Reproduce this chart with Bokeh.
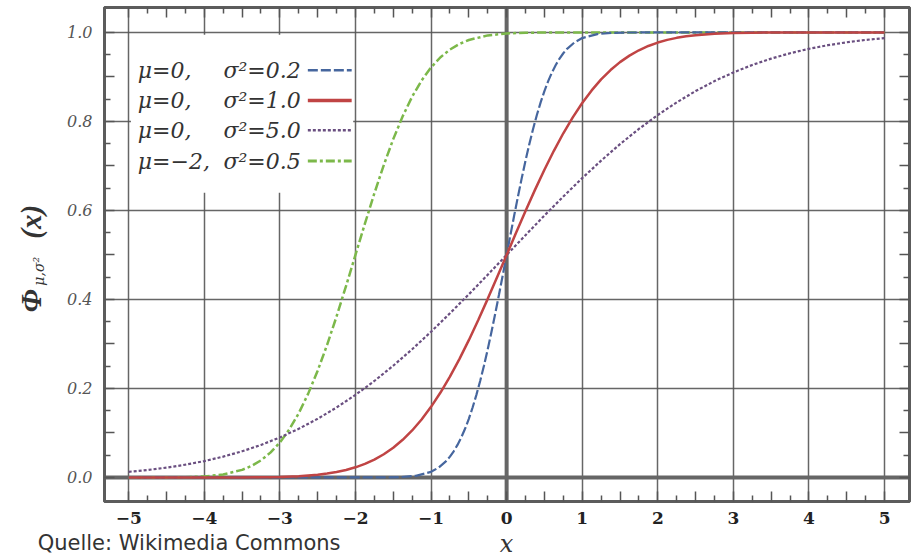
from math import pi
from bokeh.plotting import figure
from bokeh.models import FixedTicker, LinearAxis, Span, BoxAnnotation, Label
from bokeh.embed import file_html
from bokeh.resources import INLINE

# ---- data ----
# mu=0, sigma^2=0.2
x_a = [-5.0, -2.0, -1.6, -1.4, -1.2, -1.0, -0.9, -0.8, -0.75, -0.7, -0.65, -0.6, -0.55, -0.5,
       -0.45, -0.4, -0.35, -0.3, -0.25, -0.2, -0.15, -0.1, -0.05, 0.0, 0.05, 0.1, 0.15, 0.2, 0.25,
       0.3, 0.35, 0.4, 0.45, 0.5, 0.55, 0.6, 0.65, 0.7, 0.75, 0.8, 0.9, 1.0, 1.2, 1.4, 1.6, 2.0, 5.0]
y_a = [0.0, 0.0, 0.0002, 0.0009, 0.0037, 0.0127, 0.0221, 0.0368, 0.0468, 0.0588, 0.0731, 0.0899,
       0.1094, 0.1318, 0.1572, 0.1856, 0.2169, 0.2511, 0.2881, 0.3274, 0.3687, 0.4115, 0.4555,
       0.5, 0.5445, 0.5885, 0.6313, 0.6726, 0.7119, 0.7489, 0.7831, 0.8144, 0.8428, 0.8682,
       0.8906, 0.9101, 0.9269, 0.9412, 0.9532, 0.9632, 0.9779, 0.9873, 0.9963, 0.9991, 0.9998,
       1.0, 1.0]

# mu=0, sigma^2=1.0
x_b = [-5.0, -4.75, -4.5, -4.25, -4.0, -3.75, -3.5, -3.25, -3.0, -2.75, -2.5, -2.375, -2.25,
       -2.125, -2.0, -1.875, -1.75, -1.625, -1.5, -1.375, -1.25, -1.125, -1.0, -0.875, -0.75,
       -0.625, -0.5, -0.375, -0.25, -0.125, 0.0, 0.125, 0.25, 0.375, 0.5, 0.625, 0.75, 0.875,
       1.0, 1.125, 1.25, 1.375, 1.5, 1.625, 1.75, 1.875, 2.0, 2.125, 2.25, 2.375, 2.5, 2.75,
       3.0, 3.25, 3.5, 3.75, 4.0, 4.25, 4.5, 4.75, 5.0]
y_b = [0.0, 0.0, 0.0, 0.0, 0.0, 0.0001, 0.0002, 0.0006, 0.0013, 0.0030, 0.0062, 0.0088, 0.0122,
       0.0168, 0.0228, 0.0304, 0.0401, 0.0521, 0.0668, 0.0846, 0.1056, 0.1303, 0.1587, 0.1908,
       0.2266, 0.2660, 0.3085, 0.3538, 0.4013, 0.4503, 0.5, 0.5497, 0.5987, 0.6462, 0.6915,
       0.7340, 0.7734, 0.8092, 0.8413, 0.8697, 0.8944, 0.9154, 0.9332, 0.9479, 0.9599, 0.9696,
       0.9772, 0.9832, 0.9878, 0.9912, 0.9938, 0.9970, 0.9987, 0.9994, 0.9998, 0.9999, 1.0,
       1.0, 1.0, 1.0, 1.0]

# mu=0, sigma^2=5.0
x_c = [-5.0, -4.75, -4.5, -4.25, -4.0, -3.75, -3.5, -3.25, -3.0, -2.75, -2.5, -2.25, -2.0, -1.75,
       -1.5, -1.25, -1.0, -0.75, -0.5, -0.25, 0.0, 0.25, 0.5, 0.75, 1.0, 1.25, 1.5, 1.75, 2.0,
       2.25, 2.5, 2.75, 3.0, 3.25, 3.5, 3.75, 4.0, 4.25, 4.5, 4.75, 5.0]
y_c = [0.0127, 0.0168, 0.0221, 0.0287, 0.0368, 0.0468, 0.0588, 0.0731, 0.0899, 0.1094, 0.1318,
       0.1572, 0.1855, 0.2168, 0.2511, 0.2881, 0.3274, 0.3688, 0.4115, 0.4555, 0.5, 0.5445,
       0.5885, 0.6312, 0.6726, 0.7119, 0.7489, 0.7832, 0.8145, 0.8428, 0.8682, 0.8906, 0.9101,
       0.9269, 0.9412, 0.9532, 0.9632, 0.9713, 0.9779, 0.9832, 0.9873]

# mu=-2, sigma^2=0.5
x_d = [-5.0, -4.5, -4.25, -4.0, -3.75, -3.5, -3.375, -3.25, -3.125, -3.0, -2.875, -2.75, -2.625,
       -2.5, -2.375, -2.25, -2.125, -2.0, -1.875, -1.75, -1.625, -1.5, -1.375, -1.25, -1.125,
       -1.0, -0.875, -0.75, -0.625, -0.5, -0.25, 0.0, 0.25, 0.5, 1.0, 5.0]
y_d = [0.0, 0.0002, 0.0007, 0.0023, 0.0067, 0.0170, 0.0259, 0.0385, 0.0558, 0.0786, 0.1080,
       0.1444, 0.1884, 0.2398, 0.2980, 0.3618, 0.4298, 0.5, 0.5702, 0.6382, 0.7020, 0.7602,
       0.8116, 0.8556, 0.8920, 0.9214, 0.9442, 0.9615, 0.9741, 0.9830, 0.9933, 0.9977, 0.9993,
       0.9998, 1.0, 1.0]

legend_left = ["μ=0,", "μ=0,", "μ=0,", "μ=−2,"]
legend_right = ["σ²=0.2", "σ²=1.0", "σ²=5.0", "σ²=0.5"]

x_grid = [-5, -4, -3, -2, -1, 0, 1, 2, 3, 4, 5]
y_grid = [0.0, 0.2, 0.4, 0.6, 0.8, 1.0]
x_ticks = [-5.0, -4.5, -4.0, -3.5, -3.0, -2.5, -2.0, -1.5, -1.0, -0.5, 0.0, 0.5, 1.0, 1.5, 2.0,
           2.5, 3.0, 3.5, 4.0, 4.5, 5.0]
x_tick_labels = ["−5", "", "−4", "", "−3", "", "−2", "", "−1", "", "0", "", "1", "", "2", "",
                 "3", "", "4", "", "5"]
x_minor = [-4.75, -4.25, -3.75, -3.25, -2.75, -2.25, -1.75, -1.25, -0.75, -0.25, 0.25, 0.75,
           1.25, 1.75, 2.25, 2.75, 3.25, 3.75, 4.25, 4.75]
y_ticks = [0.0, 0.1, 0.2, 0.3, 0.4, 0.5, 0.6, 0.7, 0.8, 0.9, 1.0]
y_tick_labels = ["0.0", "", "0.2", "", "0.4", "", "0.6", "", "0.8", "", "1.0"]
y_minor = [0.05, 0.15, 0.25, 0.35, 0.45, 0.55, 0.65, 0.75, 0.85, 0.95]

y_title_main = "Φ" + "\u00a0" * 7 + "(x)"
y_title_sub = "μ,σ²"
x_title = "x"
caption = "Quelle: Wikimedia Commons"

# ---- styles ----
BLUE = "#46669e"
RED = "#c04444"
PURPLE = "#6a4f80"
GREEN = "#7cb84a"
FRAME = "#5c5c5c"
GRID = "#555555"
TEXT = "#333333"

p = figure(width=914, height=558, x_range=(-5.32, 5.33), y_range=(-0.054, 1.056),
           output_backend="svg", toolbar_location=None,
           min_border_left=104, min_border_right=5, min_border_top=7, min_border_bottom=57,
           background_fill_color="white", border_fill_color="white")
p.outline_line_color = FRAME
p.outline_line_width = 3

# grids
p.xgrid.ticker = FixedTicker(ticks=x_grid)
p.ygrid.ticker = FixedTicker(ticks=y_grid)
for g in (p.xgrid, p.ygrid):
    g.grid_line_color = GRID
    g.grid_line_width = 1.5
    g.grid_line_alpha = 0.9

# legend background (under the glyphs, above the grid)
box = BoxAnnotation(left=-4.97, right=-2.03, top=0.995, bottom=0.64,
                    fill_color="white", fill_alpha=1.0, line_color=None, level="underlay")
p.add_layout(box)

# heavy zero lines
p.add_layout(Span(location=0, dimension="height", line_color="#666666", line_width=4,
                  level="underlay"))
p.add_layout(Span(location=0, dimension="width", line_color="#666666", line_width=4,
                  level="underlay"))

# axes
xaxis = p.xaxis[0]
yaxis = p.yaxis[0]
xaxis.ticker = FixedTicker(ticks=x_ticks, minor_ticks=x_minor)
yaxis.ticker = FixedTicker(ticks=y_ticks, minor_ticks=y_minor)
xaxis.major_label_overrides = dict(zip(x_ticks, x_tick_labels))
yaxis.major_label_overrides = dict(zip(y_ticks, y_tick_labels))

top = LinearAxis(ticker=FixedTicker(ticks=x_ticks, minor_ticks=x_minor))
right = LinearAxis(ticker=FixedTicker(ticks=y_ticks, minor_ticks=y_minor))
top.major_label_overrides = {t: "" for t in x_ticks}
right.major_label_overrides = {t: "" for t in y_ticks}
p.add_layout(top, "above")
p.add_layout(right, "right")

for ax in (xaxis, yaxis, top, right):
    ax.axis_line_color = FRAME
    ax.axis_line_width = 3
    ax.major_tick_in = 10
    ax.major_tick_out = 0
    ax.minor_tick_in = 6
    ax.minor_tick_out = 0
    ax.major_tick_line_color = GRID
    ax.major_tick_line_width = 1.5
    ax.minor_tick_line_color = GRID
    ax.minor_tick_line_width = 1.5

for ax in (top, right):
    ax.major_label_standoff = 0
    ax.major_label_text_font_size = "0px"

xaxis.major_label_text_font = "DejaVu Serif"
xaxis.major_label_text_font_style = "bold"
xaxis.major_label_text_font_size = "17px"
xaxis.major_label_text_color = "#222222"
xaxis.major_label_standoff = 10

yaxis.major_label_text_font = "DejaVu Serif"
yaxis.major_label_text_font_style = "italic"
yaxis.major_label_text_font_size = "16px"
yaxis.major_label_text_color = "#555555"
yaxis.major_label_standoff = 12

# ---- curves ----
p.line(x_d, y_d, line_color=GREEN, line_width=2.5, line_dash="9 3 3 3")
p.line(x_a, y_a, line_color=BLUE, line_width=2.2, line_dash="10 3")
p.line(x_c, y_c, line_color=PURPLE, line_width=2.2, line_dash="3 2")
p.line(x_b, y_b, line_color=RED, line_width=2.5)

# ---- legend ----
row_y = [0.915, 0.847, 0.780, 0.711]
styles = [(BLUE, "10 3", 2.5), (RED, "solid", 3.5), (PURPLE, "3 2", 2.5), (GREEN, "9 3 3 3", 3)]
for ry, lt, rt, (c, d, w) in zip(row_y, legend_left, legend_right, styles):
    p.line([-2.63, -2.05], [ry, ry], line_color=c, line_dash=d, line_width=w)
    p.add_layout(Label(x=-4.88, y=ry, text=lt, text_align="left", text_baseline="middle",
                       text_font="DejaVu Serif", text_font_style="italic",
                       text_font_size="22px", text_color=TEXT))
    p.add_layout(Label(x=-2.725, y=ry, text=rt, text_align="right", text_baseline="middle",
                       text_font="DejaVu Serif", text_font_style="italic",
                       text_font_size="22px", text_color=TEXT))

# ---- axis titles (in side panels so the frame does not clip them) ----
p.add_layout(Label(x=-6.296, y=0.371, text=y_title_main, angle=pi / 2, text_align="left",
                   text_baseline="middle", text_font="Liberation Serif",
                   text_font_style="bold italic", text_font_size="29px", text_color=TEXT), "left")
p.add_layout(Label(x=-6.19, y=0.431, text=y_title_sub, angle=pi / 2, text_align="left",
                   text_baseline="middle", text_font="DejaVu Serif",
                   text_font_style="italic", text_font_size="14px", text_color=TEXT), "left")
p.add_layout(Label(x=0, y=-0.1506, text=x_title, text_align="center",
                   text_baseline="middle", text_font="DejaVu Serif",
                   text_font_style="italic", text_font_size="24px", text_color=TEXT), "left")

# ---- source caption ----
p.add_layout(Label(x=-6.204, y=-0.1483, text=caption, text_align="left",
                   text_baseline="middle", text_font="DejaVu Sans",
                   text_font_size="21px", text_color=TEXT), "below")

open("out.html", "w").write(file_html(p, INLINE))
